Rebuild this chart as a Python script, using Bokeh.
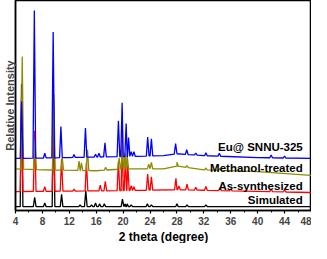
import numpy as np
from bokeh.plotting import figure
from bokeh.models import SingleIntervalTicker, FixedTicker, Range1d, ColumnDataSource, Title
from bokeh.core.properties import value
from bokeh.embed import file_html
from bokeh.resources import INLINE

# ---- data (y in arbitrary stacked units) ----
names = ["Simulated", "As-synthesized", "Methanol-treated", "Eu@ SNNU-325"]
colors = ["#000000", "#FF0000", "#8C8C00", "#0000FF"]
x_title = "2 theta (degree)"
y_title = "Relative Intensity"

sim_bg_x = [4, 48]
sim_bg_y = [4, 4]
sim_pk_x = [4.9, 6.85, 8.35, 9.65, 10.85, 13.6, 14.45, 15.3, 15.9, 16.5, 17.2, 19.9, 20.3, 20.6, 21.2, 23.6, 24.2, 28.0, 29.5, 32.3]
sim_pk_h = [130, 10, 4, 110, 13, 2, 17, 2, 4, 3, 3, 8, 3, 3, 2, 3, 2, 3, 2, 2]

as_bg_x = [4, 20, 28, 48]
as_bg_y = [20, 21, 22, 19]
as_pk_x = [4.9, 6.85, 8.35, 9.65, 10.85, 12.7, 14.55, 16.6, 17.35, 19.3, 19.9, 20.35, 20.7, 21.2, 21.6, 23.65, 24.2, 27.85, 28.3, 29.5, 30.8, 32.3, 34.4, 36.0, 42.0, 44.0]
as_pk_h = [100, 64, 5, 97, 34, 2, 30, 6, 10, 31, 64, 37, 27, 5, 4, 17, 14, 12, 4, 6, 3, 4, 3, 2, 3, 2]

me_bg_x = [4, 8, 16, 20, 26, 28, 32, 40, 48]
me_bg_y = [44, 43, 42, 44, 44, 47, 43, 41, 37]
me_pk_x = [5.0, 6.9, 9.7, 10.95, 13.45, 13.8, 14.7, 17.4, 19.4, 19.9, 20.3, 20.6, 23.8, 24.2, 28.0, 29.5, 32.3, 34.4]
me_pk_h = [119, 32, 80, 13, 10, 8, 22, 3, 12, 27, 17, 14, 5, 7, 4, 2, 2, 2]

eu_bg_x = [4, 12, 20, 26, 28, 32, 40, 48]
eu_bg_y = [55, 56, 57, 58, 60, 58, 56, 55]
eu_pk_x = [4.9, 6.8, 8.35, 9.6, 10.75, 12.7, 14.4, 15.9, 16.4, 17.3, 19.3, 19.85, 20.45, 20.8, 21.2, 21.6, 23.65, 24.2, 27.8, 29.45, 30.8, 32.3, 34.3, 42.0, 44.0]
eu_pk_h = [60, 156, 5, 133, 33, 3, 31, 3, 4, 15, 38, 57, 35, 20, 5, 5, 20, 18, 11, 5, 2, 3, 3, 3, 2]

label_y = [11, 26, 45, 67]

series = [
    (sim_bg_x, sim_bg_y, sim_pk_x, sim_pk_h),
    (as_bg_x, as_bg_y, as_pk_x, as_pk_h),
    (me_bg_x, me_bg_y, me_pk_x, me_pk_h),
    (eu_bg_x, eu_bg_y, eu_pk_x, eu_pk_h),
]

HALF_W = 0.2  # drawing width of each peak (style)


def build(bg_x, bg_y, pk_x, pk_h):
    xs = list(bg_x)
    ys = list(bg_y)
    for c, h in zip(pk_x, pk_h):
        b = float(np.interp(c, bg_x, bg_y))
        xs += [c - HALF_W, c, c + HALF_W]
        ys += [float(np.interp(c - HALF_W, bg_x, bg_y)), b + h,
               float(np.interp(c + HALF_W, bg_x, bg_y))]
    order = np.argsort(xs, kind="stable")
    return [xs[i] for i in order], [ys[i] for i in order]


FONT = "Liberation Sans"

p = figure(width=311, height=243, output_backend="svg", toolbar_location=None,
           x_range=Range1d(4, 48), y_range=Range1d(0, 222),
           min_border_left=0, min_border_right=0, min_border_top=0, min_border_bottom=0)
p.background_fill_color = "white"
p.border_fill_color = "white"
p.xgrid.visible = False
p.ygrid.visible = False
p.outline_line_color = "black"
p.outline_line_width = 1.5

for (bx, by, px, ph), col in zip(series, colors):
    xs, ys = build(bx, by, px, ph)
    p.line(xs, ys, line_color=col, line_width=1.3)

src = ColumnDataSource(dict(x=[46.7] * 4, y=label_y, t=names))
p.text(x="x", y="y", text="t", source=src, text_align="right", text_baseline="middle",
       text_font=value(FONT), text_font_style="bold", text_font_size="11.5px", text_color="black")

p.xaxis.ticker = SingleIntervalTicker(interval=4, num_minor_ticks=2)
p.xaxis.major_label_text_font = FONT
p.xaxis.major_label_text_font_style = "bold"
p.xaxis.major_label_text_font_size = "10px"
p.xaxis.major_label_standoff = 3
p.xaxis.major_tick_in = 0
p.xaxis.major_tick_out = 3
p.xaxis.minor_tick_in = 0
p.xaxis.minor_tick_out = 2
p.xaxis.axis_line_width = 1.5
p.xaxis.major_tick_line_width = 1.2

p.add_layout(Title(text=x_title, align="center", standoff=0, offset=0,
                   text_font=FONT, text_font_style="bold", text_font_size="12px",
                   text_color="black"), "below")

p.yaxis.ticker = FixedTicker(ticks=[])
p.yaxis.axis_label = y_title
p.yaxis.axis_label_text_font = FONT
p.yaxis.axis_label_text_font_style = "bold"
p.yaxis.axis_label_text_font_size = "11px"
p.yaxis.axis_label_text_line_height = 1.0
p.yaxis.axis_label_standoff = 0
p.yaxis.major_tick_line_color = None
p.yaxis.minor_tick_line_color = None
p.yaxis.axis_line_width = 1.5

open("out.html", "w").write(file_html(p, INLINE))
